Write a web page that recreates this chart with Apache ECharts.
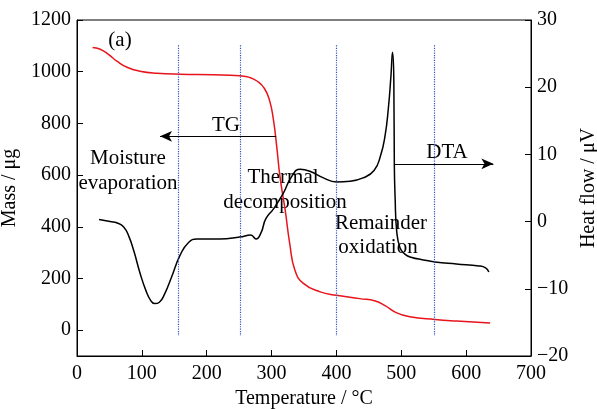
<!DOCTYPE html>
<html>
<head>
<meta charset="utf-8">
<script src="https://cdn.jsdelivr.net/npm/echarts@6/dist/echarts.min.js"></script>
<style>
  html, body { margin: 0; padding: 0; background: #fff; }
  #myChart { width: 597px; height: 409px; }
</style>
</head>
<body>
<div id="myChart"></div>
<script>
  // TG curve (left axis, mass in ug)
  var tgTemp = [24, 35, 48, 62, 78, 97, 123, 159, 210, 251, 266, 278, 289, 297, 303, 308, 313, 321, 328, 336, 349, 375, 400, 436, 460, 475, 493, 513, 552, 585, 637];
  var tgMass = [1094, 1088, 1068, 1040, 1016, 1002, 994, 990, 988, 984, 978, 963, 935, 888, 812, 709, 593, 464, 335, 232, 181, 148, 135, 122, 113, 95, 67, 52, 41, 35, 28];

  // DTA curve (right axis, heat flow in uV)
  var dtaTemp = [34, 51, 62, 72, 80, 88, 97, 106, 114, 120, 127, 135, 146, 159, 172, 185, 220, 251, 268, 276, 284, 291, 303, 318, 331, 344, 359, 380, 400, 421, 441, 458, 468, 475, 480, 484, 486.5, 488.5, 489.3, 490.5, 493, 498, 505, 515, 534, 552, 585, 620, 630, 635];
  var dtaFlow = [0.3, 0, -0.2, -0.8, -2.2, -4.5, -7.6, -10.2, -11.8, -12.2, -12.0, -10.8, -8.2, -5.0, -3.1, -2.6, -2.6, -2.3, -2.0, -2.6, -1.6, 0.4, 1.9, 4.2, 6.7, 7.8, 7.5, 6.5, 5.9, 6.0, 6.5, 7.6, 9.8, 12.8, 16.8, 21.6, 25.2, 21.0, 8.2, 3.5, -1.5, -3.9, -4.8, -5.3, -5.7, -6.0, -6.3, -6.6, -6.9, -7.5];

  // stage boundaries (dotted blue lines)
  var stageTemps = [156, 252, 399, 551];

  // tick labels
  var massTicks = [0, 200, 400, 600, 800, 1000, 1200];

  var font = "'Liberation Serif', 'Times New Roman', serif";

  var tgData = tgTemp.map(function (t, i) { return [t, tgMass[i]]; });
  var dtaData = dtaTemp.map(function (t, i) { return [t, dtaFlow[i]]; });

  var stageLines = stageTemps.map(function (t) {
    return [{ coord: [t, 1102] }, { coord: [t, -23] }];
  });

  // annotation text, placed in pixels
  function note (text, x, y) {
    return {
      type: 'text', x: x, y: y,
      style: {
        text: text, font: '21px ' + font, fill: '#000',
        align: 'center', verticalAlign: 'middle',
        textAlign: 'center', textVerticalAlign: 'middle'
      }
    };
  }

  var myChart = echarts.init(document.getElementById('myChart'));

  var option = {
    animation: false,
    textStyle: { fontFamily: font, color: '#000' },
    grid: {
      left: 77,
      right: 66,
      top: 20,
      bottom: 53,
      containLabel: false,
      outerBoundsMode: 'none',
      show: true,
      borderColor: '#000',
      borderWidth: 1
    },
    xAxis: {
      type: 'value',
      min: 0,
      max: 700,
      interval: 100,
      name: 'Temperature / °C',
      nameLocation: 'middle',
      nameGap: 25,
      nameTextStyle: { fontSize: 20, color: '#000', fontFamily: font },
      axisLine: { onZero: false, lineStyle: { color: '#000', width: 1 } },
      axisTick: { inside: true, length: 6, lineStyle: { color: '#000' } },
      axisLabel: { fontSize: 20, color: '#000', margin: 8, fontFamily: font },
      splitLine: { show: false }
    },
    yAxis: [
      {
        type: 'value',
        min: -100,
        max: 1200,
        name: 'Mass / μg',
        nameLocation: 'middle',
        nameGap: 44,
        nameTextStyle: { fontSize: 20, color: '#000', fontFamily: font },
        axisLine: { show: true, onZero: false, lineStyle: { color: '#000', width: 1 } },
        axisTick: { show: true, inside: true, length: 6, customValues: massTicks, lineStyle: { color: '#000' } },
        axisLabel: {
          fontSize: 20, color: '#000', margin: 6, customValues: massTicks, fontFamily: font,
          formatter: function (v) { return String(v); }
        },
        splitLine: { show: false }
      },
      {
        type: 'value',
        min: -20,
        max: 30,
        interval: 10,
        position: 'right',
        alignTicks: false,
        name: 'Heat flow / μV',
        nameLocation: 'middle',
        nameGap: 46,
        nameTextStyle: { fontSize: 20, color: '#000', fontFamily: font },
        axisLine: { show: true, onZero: false, lineStyle: { color: '#000', width: 1 } },
        axisTick: { show: true, inside: true, length: 6, lineStyle: { color: '#000' } },
        axisLabel: {
          fontSize: 20, color: '#000', margin: 6, fontFamily: font,
          formatter: function (v) { return String(v).replace('-', '\u2212'); }
        },
        splitLine: { show: false }
      }
    ],
    series: [
      {
        name: 'TG',
        type: 'line',
        yAxisIndex: 0,
        data: tgData,
        showSymbol: false,
        smooth: 0.5,
        lineStyle: { color: '#e8141b', width: 1.5 },
        itemStyle: { color: '#e8141b' },
        markLine: {
          silent: true,
          symbol: ['none', 'none'],
          label: { show: false },
          lineStyle: { color: '#2f55c8', type: 'dotted', width: 1.2 },
          data: stageLines
        }
      },
      {
        name: 'TG arrow',
        type: 'line',
        yAxisIndex: 0,
        data: [],
        markLine: {
          silent: true,
          symbol: ['none', 'arrow'],
          symbolSize: [8, 12],
          label: { show: false },
          lineStyle: { color: '#000', type: 'solid', width: 1.2 },
          data: [[{ coord: [307, 750] }, { coord: [128, 750] }]]
        }
      },
      {
        name: 'DTA',
        type: 'line',
        yAxisIndex: 1,
        data: dtaData,
        showSymbol: false,
        smooth: 0.5,
        lineStyle: { color: '#000', width: 1.5 },
        itemStyle: { color: '#000' },
        markLine: {
          silent: true,
          symbol: ['none', 'arrow'],
          symbolSize: [8, 12],
          label: { show: false },
          lineStyle: { color: '#000', type: 'solid', width: 1.2 },
          data: [[{ coord: [489, 8.6] }, { coord: [642, 8.6] }]]
        }
      }
    ],
    graphic: [
      note('(a)', 120, 40),
      note('TG', 226, 125),
      note('Moisture', 128, 158),
      note('evaporation', 128, 183),
      note('Thermal', 283, 177),
      note('decomposition', 285, 202),
      note('Remainder', 381, 223),
      note('oxidation', 378, 247),
      note('DTA', 447, 152)
    ]
  };

  myChart.setOption(option);
</script>
</body>
</html>
